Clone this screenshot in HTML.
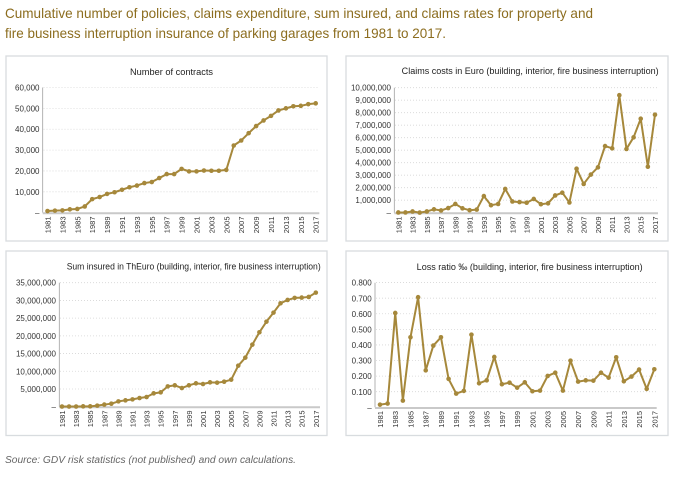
<!DOCTYPE html>
<html><head><meta charset="utf-8">
<style>
html,body{margin:0;padding:0;background:#fff;}
svg{display:block;}
text{font-family:"Liberation Sans",sans-serif;}
.ttl{fill:#8c6d1f;font-size:14px;}
.ct{fill:#222;font-size:9px;}
.yl{fill:#333;font-size:8px;text-anchor:end;}
.xl{fill:#333;font-size:7.5px;text-anchor:end;}
.src{fill:#666;font-size:10px;font-style:italic;}
.panel{fill:#fff;stroke:#d8dcdf;stroke-width:1.3;}
.yax{stroke:#a0a0a0;stroke-width:0.8;}
.xax{stroke:#c9c9c9;stroke-width:2;}
</style></head>
<body>
<svg id="s" width="674" height="480" viewBox="0 0 674 480" xmlns="http://www.w3.org/2000/svg">
<text class="ttl" x="5" y="18" textLength="588" lengthAdjust="spacingAndGlyphs">Cumulative number of policies, claims expenditure, sum insured, and claims rates for property and</text>
<text class="ttl" x="5" y="38" textLength="441" lengthAdjust="spacingAndGlyphs">fire business interruption insurance of parking garages from 1981 to 2017.</text>

<rect class="panel" x="6" y="56" width="321" height="185"/>
<rect class="panel" x="346" y="56" width="322" height="185"/>
<rect class="panel" x="6" y="251" width="321" height="184.5"/>
<rect class="panel" x="346" y="251" width="322" height="184.5"/>

<g id="grid"></g>

<!-- Chart 1 -->
<text class="ct" x="130" y="75" textLength="83" lengthAdjust="spacingAndGlyphs">Number of contracts</text>
<line class="yax" x1="42.7" y1="87.5" x2="42.7" y2="212.7"/>
<line class="xax" x1="42.7" y1="213.3" x2="319.3" y2="213.3"/>
<g class="yl">
<text x="39.5" y="90.5">60,000</text>
<text x="39.5" y="111.4">50,000</text>
<text x="39.5" y="132.2">40,000</text>
<text x="39.5" y="153.1">30,000</text>
<text x="39.5" y="174.0">20,000</text>
<text x="39.5" y="194.8">10,000</text>
<text x="39.5" y="215.7">–</text>
</g>
<g class="xl">
<text transform="translate(50.5,216.5) rotate(-90)">1981</text>
<text transform="translate(65.4,216.5) rotate(-90)">1983</text>
<text transform="translate(80.3,216.5) rotate(-90)">1985</text>
<text transform="translate(95.2,216.5) rotate(-90)">1987</text>
<text transform="translate(110.1,216.5) rotate(-90)">1989</text>
<text transform="translate(125.0,216.5) rotate(-90)">1991</text>
<text transform="translate(139.9,216.5) rotate(-90)">1993</text>
<text transform="translate(154.8,216.5) rotate(-90)">1995</text>
<text transform="translate(169.7,216.5) rotate(-90)">1997</text>
<text transform="translate(184.6,216.5) rotate(-90)">1999</text>
<text transform="translate(199.5,216.5) rotate(-90)">2001</text>
<text transform="translate(214.4,216.5) rotate(-90)">2003</text>
<text transform="translate(229.3,216.5) rotate(-90)">2005</text>
<text transform="translate(244.2,216.5) rotate(-90)">2007</text>
<text transform="translate(259.1,216.5) rotate(-90)">2009</text>
<text transform="translate(274.0,216.5) rotate(-90)">2011</text>
<text transform="translate(288.9,216.5) rotate(-90)">2013</text>
<text transform="translate(303.8,216.5) rotate(-90)">2015</text>
<text transform="translate(318.7,216.5) rotate(-90)">2017</text>
</g>

<!-- Chart 2 -->
<text class="ct" x="401.7" y="74" textLength="257" lengthAdjust="spacingAndGlyphs">Claims costs in Euro (building, interior, fire business interruption)</text>
<line class="yax" x1="394.3" y1="87.7" x2="394.3" y2="212.7"/>
<line class="xax" x1="394.3" y1="213.3" x2="658" y2="213.3"/>
<g class="yl">
<text x="391" y="90.7">10,000,000</text>
<text x="391" y="103.2">9,000,000</text>
<text x="391" y="115.7">8,000,000</text>
<text x="391" y="128.2">7,000,000</text>
<text x="391" y="140.7">6,000,000</text>
<text x="391" y="153.2">5,000,000</text>
<text x="391" y="165.7">4,000,000</text>
<text x="391" y="178.2">3,000,000</text>
<text x="391" y="190.7">2,000,000</text>
<text x="391" y="203.2">1,000,000</text>
<text x="391" y="215.7">–</text>
</g>
<g class="xl">
<text transform="translate(401.3,216.5) rotate(-90)">1981</text>
<text transform="translate(415.6,216.5) rotate(-90)">1983</text>
<text transform="translate(429.8,216.5) rotate(-90)">1985</text>
<text transform="translate(444.1,216.5) rotate(-90)">1987</text>
<text transform="translate(458.3,216.5) rotate(-90)">1989</text>
<text transform="translate(472.6,216.5) rotate(-90)">1991</text>
<text transform="translate(486.9,216.5) rotate(-90)">1993</text>
<text transform="translate(501.1,216.5) rotate(-90)">1995</text>
<text transform="translate(515.4,216.5) rotate(-90)">1997</text>
<text transform="translate(529.6,216.5) rotate(-90)">1999</text>
<text transform="translate(543.9,216.5) rotate(-90)">2001</text>
<text transform="translate(558.2,216.5) rotate(-90)">2003</text>
<text transform="translate(572.4,216.5) rotate(-90)">2005</text>
<text transform="translate(586.7,216.5) rotate(-90)">2007</text>
<text transform="translate(600.9,216.5) rotate(-90)">2009</text>
<text transform="translate(615.2,216.5) rotate(-90)">2011</text>
<text transform="translate(629.5,216.5) rotate(-90)">2013</text>
<text transform="translate(643.7,216.5) rotate(-90)">2015</text>
<text transform="translate(658.0,216.5) rotate(-90)">2017</text>
</g>

<!-- Chart 3 -->
<text class="ct" x="66.7" y="269.5" textLength="254" lengthAdjust="spacingAndGlyphs">Sum insured in ThEuro (building, interior, fire business interruption)</text>
<line class="yax" x1="59.3" y1="282.7" x2="59.3" y2="406.7"/>
<line class="xax" x1="59.3" y1="407.3" x2="320" y2="407.3"/>
<g class="yl">
<text x="56" y="285.7">35,000,000</text>
<text x="56" y="303.4">30,000,000</text>
<text x="56" y="321.1">25,000,000</text>
<text x="56" y="338.8">20,000,000</text>
<text x="56" y="356.6">15,000,000</text>
<text x="56" y="374.3">10,000,000</text>
<text x="56" y="392.0">5,000,000</text>
<text x="56" y="409.7">–</text>
</g>
<g class="xl">
<text transform="translate(65.0,410.5) rotate(-90)">1981</text>
<text transform="translate(79.1,410.5) rotate(-90)">1983</text>
<text transform="translate(93.2,410.5) rotate(-90)">1985</text>
<text transform="translate(107.3,410.5) rotate(-90)">1987</text>
<text transform="translate(121.4,410.5) rotate(-90)">1989</text>
<text transform="translate(135.5,410.5) rotate(-90)">1991</text>
<text transform="translate(149.6,410.5) rotate(-90)">1993</text>
<text transform="translate(163.7,410.5) rotate(-90)">1995</text>
<text transform="translate(177.8,410.5) rotate(-90)">1997</text>
<text transform="translate(191.9,410.5) rotate(-90)">1999</text>
<text transform="translate(206.0,410.5) rotate(-90)">2001</text>
<text transform="translate(220.1,410.5) rotate(-90)">2003</text>
<text transform="translate(234.2,410.5) rotate(-90)">2005</text>
<text transform="translate(248.3,410.5) rotate(-90)">2007</text>
<text transform="translate(262.4,410.5) rotate(-90)">2009</text>
<text transform="translate(276.5,410.5) rotate(-90)">2011</text>
<text transform="translate(290.6,410.5) rotate(-90)">2013</text>
<text transform="translate(304.7,410.5) rotate(-90)">2015</text>
<text transform="translate(318.8,410.5) rotate(-90)">2017</text>
</g>

<!-- Chart 4 -->
<text class="ct" x="416.7" y="270" textLength="226" lengthAdjust="spacingAndGlyphs">Loss ratio ‰ (building, interior, fire business interruption)</text>
<line class="yax" x1="375" y1="282.7" x2="375" y2="407.3"/>
<line class="xax" x1="375" y1="408" x2="656.7" y2="408"/>
<g class="yl">
<text x="371.7" y="285.7">0.800</text>
<text x="371.7" y="301.3">0.700</text>
<text x="371.7" y="316.9">0.600</text>
<text x="371.7" y="332.5">0.500</text>
<text x="371.7" y="348.1">0.400</text>
<text x="371.7" y="363.7">0.300</text>
<text x="371.7" y="379.2">0.200</text>
<text x="371.7" y="394.8">0.100</text>
<text x="371.7" y="410.3">–</text>
</g>
<g class="xl">
<text transform="translate(383.0,411) rotate(-90)">1981</text>
<text transform="translate(398.2,411) rotate(-90)">1983</text>
<text transform="translate(413.5,411) rotate(-90)">1985</text>
<text transform="translate(428.7,411) rotate(-90)">1987</text>
<text transform="translate(444.0,411) rotate(-90)">1989</text>
<text transform="translate(459.2,411) rotate(-90)">1991</text>
<text transform="translate(474.4,411) rotate(-90)">1993</text>
<text transform="translate(489.7,411) rotate(-90)">1995</text>
<text transform="translate(504.9,411) rotate(-90)">1997</text>
<text transform="translate(520.2,411) rotate(-90)">1999</text>
<text transform="translate(535.4,411) rotate(-90)">2001</text>
<text transform="translate(550.6,411) rotate(-90)">2003</text>
<text transform="translate(565.9,411) rotate(-90)">2005</text>
<text transform="translate(581.1,411) rotate(-90)">2007</text>
<text transform="translate(596.4,411) rotate(-90)">2009</text>
<text transform="translate(611.6,411) rotate(-90)">2011</text>
<text transform="translate(626.8,411) rotate(-90)">2013</text>
<text transform="translate(642.1,411) rotate(-90)">2015</text>
<text transform="translate(657.3,411) rotate(-90)">2017</text>
</g>

<g id="series"></g>

<text class="src" x="5" y="463" textLength="291" lengthAdjust="spacingAndGlyphs">Source: GDV risk statistics (not published) and own calculations.</text>
</svg>
<script>
(function(){
var NS="http://www.w3.org/2000/svg";
var grid=document.getElementById("grid"), ser=document.getElementById("series");
function el(p,n,a){var e=document.createElementNS(NS,n);for(var k in a)e.setAttribute(k,a[k]);p.appendChild(e);return e;}
function grids(x1,x2,y0,dy,n){for(var k=1;k<=n;k++){var y=y0-k*dy;el(grid,"line",{x1:x1,x2:x2,y1:y,y2:y,stroke:"#d6d6d6","stroke-width":0.8,"stroke-dasharray":"1,2"});}}
grids(43.5,319.3,212.7,20.87,6);
grids(395,658,212.7,12.5,10);
grids(60,320,406.7,17.714,7);
grids(376,656.7,407.3,15.59,8);
function series(x0,step,y0,sc,d){
  var pts=[];
  for(var i=0;i<d.length;i++){pts.push((x0+i*step).toFixed(2)+","+(y0-d[i]*sc).toFixed(2));}
  el(ser,"polyline",{points:pts.join(" "),fill:"none",stroke:"#a6883b","stroke-width":2,"stroke-linejoin":"round"});
  for(var i=0;i<d.length;i++){el(ser,"circle",{cx:x0+i*step,cy:y0-d[i]*sc,r:2.3,fill:"#a6883b"});}
}
// contracts (thousands)
series(47.5,7.45,212.7,2.087,[0.8,1.0,1.1,1.6,1.8,3.0,6.5,7.5,9.0,9.8,11.0,12.2,13.0,14.2,14.7,16.6,18.5,18.5,21.0,19.8,19.8,20.2,20.1,20.1,20.5,32.2,34.6,38.1,41.5,44.2,46.4,49.0,50.0,51.0,51.2,52.0,52.4]);
// claims costs (millions)
series(398.3,7.13,212.7,12.5,[0.02,0.02,0.1,0.01,0.1,0.27,0.18,0.37,0.7,0.35,0.2,0.25,1.33,0.6,0.7,1.9,0.9,0.85,0.8,1.1,0.68,0.75,1.38,1.6,0.82,3.52,2.3,3.05,3.63,5.33,5.15,9.4,5.1,6.03,7.52,3.68,7.84]);
// sum insured (millions)
series(62,7.05,406.7,3.543,[0.05,0.05,0.05,0.1,0.1,0.3,0.6,0.85,1.5,1.8,2.07,2.45,2.73,3.77,4.05,5.74,6.03,5.27,6.03,6.6,6.4,6.87,6.78,7.06,7.63,11.58,13.84,17.51,21.0,24.0,26.55,29.19,30.13,30.7,30.79,30.98,32.2]);
// loss ratio
series(380,7.62,407.3,155.9,[0.017,0.024,0.605,0.043,0.449,0.706,0.237,0.396,0.449,0.182,0.088,0.105,0.466,0.154,0.173,0.323,0.148,0.158,0.126,0.16,0.103,0.107,0.201,0.222,0.107,0.299,0.165,0.173,0.171,0.222,0.19,0.321,0.167,0.197,0.242,0.118,0.244]);
})();
</script>
</body></html>
